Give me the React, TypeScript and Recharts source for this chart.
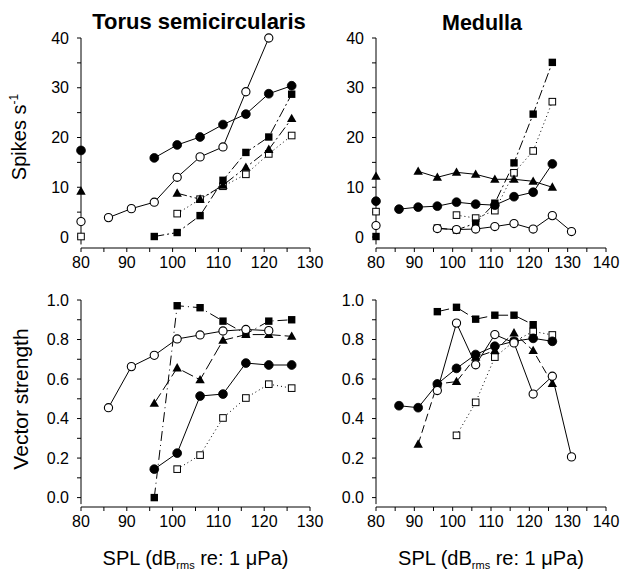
import React from 'react';
import { LineChart, Line, XAxis, YAxis, ReferenceLine } from 'recharts';

// ---------- data ----------
const tsLevels = [86, 91, 96, 101, 106, 111, 116, 121, 126];
const mdLevels = [86, 91, 96, 101, 106, 111, 116, 121, 126, 131];
const spontaneousLevel = 80;

const tsXTicks = [80, 85, 90, 95, 100, 105, 110, 115, 120, 125, 130];
const mdXTicks = [80, 85, 90, 95, 100, 105, 110, 115, 120, 125, 130, 135, 140];
const spikeTicks = [0, 5, 10, 15, 20, 25, 30, 35, 40];
const vsTicks = [0, 0.1, 0.2, 0.3, 0.4, 0.5, 0.6, 0.7, 0.8, 0.9, 1.0];

// Torus semicircularis, spikes/s
const tsSpikesFilledCircle = [null, null, 15.9, 18.5, 20.1, 22.6, 24.7, 28.8, 30.4];
const tsSpikesOpenCircle = [3.9, 5.7, 7.0, 12.0, 16.1, 18.1, 29.2, 40.0, null];
const tsSpikesFilledSquare = [null, null, 0.1, 0.9, 4.3, 11.4, 17.0, 20.1, 28.7];
const tsSpikesTriangle = [null, null, null, 8.8, 7.6, 10.4, 14.0, 17.6, 23.8];
const tsSpikesOpenSquare = [null, null, null, 4.7, 7.6, 10.2, 12.6, 16.7, 20.4];
// spontaneous: filled circle, open circle, triangle, open square, filled square
const tsSpikesSpontaneous = [17.4, 3.1, 9.2, 0.1, null];

// Medulla, spikes/s
const mdSpikesFilledCircle = [5.6, 6.0, 6.2, 7.0, 6.6, 6.4, 8.1, 9.0, 14.7, null];
const mdSpikesOpenCircle = [null, null, 1.7, 1.5, 1.6, 2.1, 2.7, 1.6, 4.3, 1.1];
const mdSpikesTriangle = [null, 13.2, 12.0, 13.0, 12.6, 11.6, 11.6, 11.2, 10.0, null];
const mdSpikesFilledSquare = [null, null, 1.8, 1.4, 2.8, 6.8, 14.9, 24.7, 35.1, null];
const mdSpikesOpenSquare = [null, null, null, 4.4, 3.8, 5.3, 12.9, 17.3, 27.2, null];
const mdSpikesSpontaneous = [7.2, 2.3, 12.2, 5.1, 0.1];

// Torus semicircularis, vector strength
const tsVsOpenCircle = [0.455, 0.663, 0.72, 0.803, 0.823, 0.843, 0.851, 0.845, null];
const tsVsFilledCircle = [null, null, 0.144, 0.225, 0.514, 0.524, 0.681, 0.671, 0.671];
const tsVsFilledSquare = [null, null, 0.0, 0.971, 0.961, 0.893, 0.828, 0.893, 0.9];
const tsVsTriangle = [null, null, 0.477, 0.656, 0.596, 0.796, 0.825, 0.825, 0.816];
const tsVsOpenSquare = [null, null, null, 0.144, 0.215, 0.403, 0.504, 0.574, 0.554];

// Medulla, vector strength
const mdVsFilledCircle = [0.465, 0.455, 0.575, 0.654, 0.724, 0.766, 0.791, 0.806, 0.791, null];
const mdVsOpenCircle = [null, null, 0.542, 0.883, 0.672, 0.825, 0.783, 0.524, 0.614, 0.206];
const mdVsTriangle = [null, 0.27, 0.575, 0.587, 0.71, 0.744, 0.833, 0.744, 0.577, null];
const mdVsFilledSquare = [null, null, 0.941, 0.963, 0.903, 0.923, 0.923, 0.875, null, null];
const mdVsOpenSquare = [null, null, null, 0.315, 0.482, 0.711, 0.79, 0.841, 0.823, null];

const spontaneousKinds = ['filledCircle', 'openCircle', 'triangle', 'openSquare', 'filledSquare'];

// ---------- helpers ----------
const FONT = '"Liberation Sans", Arial, Helvetica, sans-serif';
const DASH_DOT = '10 3 2 3';
const LONG_DASH = '8 4';
const DOTTED = '1 3';

function toPoints(levels: number[], values: (number | null)[]) {
  const out: { x: number; y: number }[] = [];
  values.forEach((v, i) => {
    if (v !== null && v !== undefined) out.push({ x: levels[i], y: v });
  });
  return out;
}

function marker(kind: string) {
  return (props: any) => {
    const { cx, cy, index } = props;
    const k = `${kind}-${index}-${cx}-${cy}`;
    if (cx == null || cy == null) return <g key={k} />;
    switch (kind) {
      case 'filledCircle':
        return <circle key={k} cx={cx} cy={cy} r={4.4} fill="#000" stroke="#000" strokeWidth={0.8} />;
      case 'openCircle':
        return <circle key={k} cx={cx} cy={cy} r={4.1} fill="#fff" stroke="#000" strokeWidth={1.1} />;
      case 'filledSquare':
        return <rect key={k} x={cx - 3.7} y={cy - 3.7} width={7.4} height={7.4} fill="#000" />;
      case 'openSquare':
        return <rect key={k} x={cx - 3.3} y={cy - 3.3} width={6.6} height={6.6} fill="#fff" stroke="#000" strokeWidth={1} />;
      default:
        return (
          <polygon
            key={k}
            points={`${cx},${cy - 4.9} ${cx + 4.7},${cy + 3.5} ${cx - 4.7},${cy + 3.5}`}
            fill="#000"
          />
        );
    }
  };
}

type SeriesDef = { kind: string; values: (number | null)[]; dash?: string };

const tsSpikesSeries: SeriesDef[] = [
  { kind: 'openSquare', values: tsSpikesOpenSquare, dash: DOTTED },
  { kind: 'triangle', values: tsSpikesTriangle, dash: DASH_DOT },
  { kind: 'filledSquare', values: tsSpikesFilledSquare, dash: DASH_DOT },
  { kind: 'filledCircle', values: tsSpikesFilledCircle },
  { kind: 'openCircle', values: tsSpikesOpenCircle },
];
const mdSpikesSeries: SeriesDef[] = [
  { kind: 'openSquare', values: mdSpikesOpenSquare, dash: DOTTED },
  { kind: 'filledSquare', values: mdSpikesFilledSquare, dash: DASH_DOT },
  { kind: 'triangle', values: mdSpikesTriangle },
  { kind: 'filledCircle', values: mdSpikesFilledCircle },
  { kind: 'openCircle', values: mdSpikesOpenCircle },
];
const tsVsSeries: SeriesDef[] = [
  { kind: 'openSquare', values: tsVsOpenSquare, dash: DOTTED },
  { kind: 'filledSquare', values: tsVsFilledSquare, dash: '10 4 1 4' },
  { kind: 'triangle', values: tsVsTriangle, dash: '12 4' },
  { kind: 'filledCircle', values: tsVsFilledCircle },
  { kind: 'openCircle', values: tsVsOpenCircle },
];
const mdVsSeries: SeriesDef[] = [
  { kind: 'openSquare', values: mdVsOpenSquare, dash: DOTTED },
  { kind: 'filledSquare', values: mdVsFilledSquare, dash: '12 4 1 4' },
  { kind: 'triangle', values: mdVsTriangle, dash: LONG_DASH },
  { kind: 'filledCircle', values: mdVsFilledCircle },
  { kind: 'openCircle', values: mdVsOpenCircle },
];

const XTick = (props: any) => {
  const { x, y, payload } = props;
  const v = payload.value;
  if (v % 10 !== 0) return <g />;
  return (
    <text x={x} y={y} dy="0.71em" textAnchor="middle" fontFamily={FONT} fontSize={16} fill="#000">
      {v}
    </text>
  );
};

const SpikeTick = (props: any) => {
  const { x, y, payload } = props;
  const v = payload.value;
  if (v % 10 !== 0) return <g />;
  return (
    <text x={x} y={y} dy="0.355em" textAnchor="end" fontFamily={FONT} fontSize={16} fill="#000">
      {v}
    </text>
  );
};

const VsTick = (props: any) => {
  const { x, y, payload } = props;
  const v = payload.value;
  if (Math.round(v * 10) % 2 !== 0) return <g />;
  return (
    <text x={x} y={y} dy="0.355em" textAnchor="end" fontFamily={FONT} fontSize={16} fill="#000">
      {v.toFixed(1)}
    </text>
  );
};

type PanelProps = {
  left: number;
  top: number;
  width: number;
  height: number;
  marginRight: number;
  yAxisWidth: number;
  levels: number[];
  series: SeriesDef[];
  spontaneous?: (number | null)[];
  xMax: number;
  xTicks: number[];
  yDomain: [number, number];
  yTicks: number[];
  yLineBottom: number;
  yTick: any;
};

function Panel(p: PanelProps) {
  return (
    <div style={{ position: 'absolute', left: p.left, top: p.top }}>
      <LineChart
        width={p.width}
        height={p.height}
        margin={{ top: 38, right: p.marginRight, bottom: 2, left: 0 }}
        style={{ overflow: 'visible' }}
      >
        <XAxis
          type="number"
          dataKey="x"
          domain={[80, p.xMax]}
          ticks={p.xTicks}
          interval={0}
          tickSize={4}
          tickMargin={5}
          tick={XTick}
          axisLine={{ stroke: '#000', strokeWidth: 1 }}
          tickLine={{ stroke: '#000', strokeWidth: 1 }}
          height={32}
        />
        <YAxis
          type="number"
          dataKey="y"
          domain={p.yDomain}
          ticks={p.yTicks}
          interval={0}
          tickSize={4}
          tickMargin={8}
          tick={p.yTick}
          axisLine={false}
          tickLine={{ stroke: '#000', strokeWidth: 1 }}
          width={p.yAxisWidth}
        />
        <ReferenceLine
          segment={[
            { x: 80, y: p.yLineBottom },
            { x: 80, y: p.yDomain[1] },
          ]}
          stroke="#000"
          strokeWidth={1}
          ifOverflow="visible"
        />
        {p.series.map((s, i) => (
          <Line
            key={`s-${i}`}
            data={toPoints(p.levels, s.values)}
            dataKey="y"
            type="linear"
            stroke="#000"
            strokeWidth={1}
            strokeDasharray={s.dash}
            dot={marker(s.kind)}
            activeDot={false}
            isAnimationActive={false}
          />
        ))}
        {(p.spontaneous || []).map((v, i) =>
          v === null ? null : (
            <Line
              key={`sp-${i}`}
              data={[{ x: spontaneousLevel, y: v }]}
              dataKey="y"
              stroke="none"
              dot={marker(spontaneousKinds[i])}
              activeDot={false}
              isAnimationActive={false}
            />
          )
        )}
      </LineChart>
    </div>
  );
}

function SplLabel({ cx }: { cx: number }) {
  return (
    <text x={cx} y={565} textAnchor="middle" fontFamily={FONT} fontSize={20} fill="#000">
      SPL (dB
      <tspan fontSize={11} dy={4}>rms</tspan>
      <tspan dy={-4}> re: 1 μPa)</tspan>
    </text>
  );
}

export default function App() {
  return (
    <div
      style={{
        position: 'absolute',
        left: 0,
        top: 0,
        width: 622,
        height: 575,
        background: '#fff',
        overflow: 'hidden',
      }}
    >
      <Panel
        left={0}
        top={0}
        width={330}
        height={282}
        marginRight={20}
        yAxisWidth={81}
        levels={tsLevels}
        series={tsSpikesSeries}
        spontaneous={tsSpikesSpontaneous}
        xMax={130}
        xTicks={tsXTicks}
        yDomain={[-2.21, 40]}
        yTicks={spikeTicks}
        yLineBottom={-1.5}
        yTick={SpikeTick}
      />
      <Panel
        left={330}
        top={0}
        width={292}
        height={282}
        marginRight={16}
        yAxisWidth={46}
        levels={mdLevels}
        series={mdSpikesSeries}
        spontaneous={mdSpikesSpontaneous}
        xMax={140}
        xTicks={mdXTicks}
        yDomain={[-2.21, 40]}
        yTicks={spikeTicks}
        yLineBottom={-1.5}
        yTick={SpikeTick}
      />
      <Panel
        left={0}
        top={262}
        width={330}
        height={279}
        marginRight={20}
        yAxisWidth={81}
        levels={tsLevels}
        series={tsVsSeries}
        xMax={130}
        xTicks={tsXTicks}
        yDomain={[-0.0476, 1.0]}
        yTicks={vsTicks}
        yLineBottom={-0.033}
        yTick={VsTick}
      />
      <Panel
        left={330}
        top={262}
        width={292}
        height={279}
        marginRight={16}
        yAxisWidth={46}
        levels={mdLevels}
        series={mdVsSeries}
        xMax={140}
        xTicks={mdXTicks}
        yDomain={[-0.0476, 1.0]}
        yTicks={vsTicks}
        yLineBottom={-0.033}
        yTick={VsTick}
      />
      <svg
        width={622}
        height={575}
        style={{ position: 'absolute', left: 0, top: 0, pointerEvents: 'none' }}
      >
        <text x={199} y={29} textAnchor="middle" fontFamily={FONT} fontSize={22} fontWeight="bold" fill="#000">
          Torus semicircularis
        </text>
        <text x={482} y={30} textAnchor="middle" fontFamily={FONT} fontSize={21.5} fontWeight="bold" fill="#000">
          Medulla
        </text>
        <text
          transform="translate(26,137) rotate(-90)"
          textAnchor="middle"
          fontFamily={FONT}
          fontSize={20}
          fill="#000"
        >
          Spikes s
          <tspan fontSize={12} dy={-8}>-1</tspan>
        </text>
        <text
          transform="translate(28,399) rotate(-90)"
          textAnchor="middle"
          fontFamily={FONT}
          fontSize={21}
          fill="#000"
        >
          Vector strength
        </text>
        <SplLabel cx={195.5} />
        <SplLabel cx={491} />
      </svg>
    </div>
  );
}
